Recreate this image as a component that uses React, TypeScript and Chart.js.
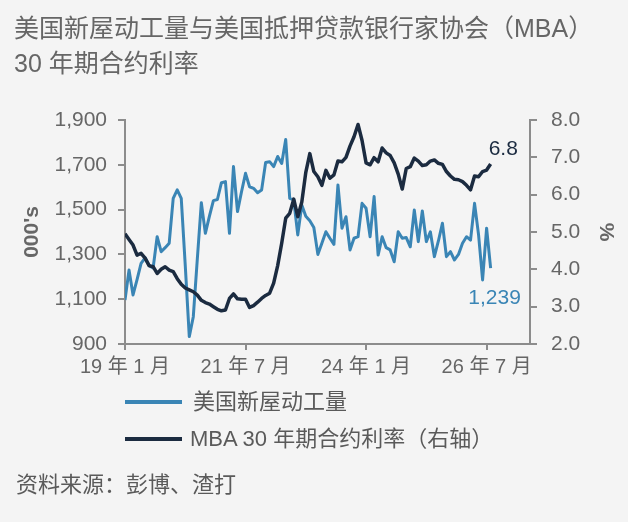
import { useEffect, useRef } from "react"
import { Chart, registerables } from "chart.js"

Chart.register(...registerables)

// 月度数据，起点 = 横轴起点
const housingStarts = [
    1096, 1230, 1119, 1187, 1260, 1285, 1250, 1239, 1379, 1312,
    1330, 1350, 1550, 1588, 1550, 1250, 933, 1022, 1280, 1531,
    1394, 1470, 1540, 1545, 1620, 1625, 1394, 1692, 1491, 1580,
    1662, 1602, 1595, 1575, 1587, 1710, 1714, 1692, 1737, 1706,
    1813, 1550, 1543, 1387, 1520, 1470, 1450, 1420, 1300, 1350,
    1401, 1372, 1345, 1610, 1417, 1468, 1320, 1372, 1379, 1528,
    1506, 1379, 1558, 1297, 1379, 1330, 1320, 1267, 1401, 1372,
    1375, 1334, 1498, 1357, 1494, 1357, 1401, 1290, 1360, 1439,
    1290, 1312, 1275, 1300, 1350, 1379, 1364, 1528, 1387, 1186,
    1417, 1239,
]
const mbaRate = [
    4.95, 4.80, 4.65, 4.38, 4.43, 4.30, 4.10, 4.07, 3.89, 4.00,
    4.07, 3.98, 3.94, 3.75, 3.60, 3.50, 3.45, 3.40, 3.31, 3.17,
    3.11, 3.07, 3.00, 2.93, 2.89, 2.91, 3.22, 3.34, 3.21, 3.20,
    3.20, 2.98, 3.03, 3.12, 3.22, 3.30, 3.36, 3.63, 4.10, 4.70,
    5.37, 5.50, 5.88, 5.41, 5.80, 6.60, 7.10, 6.62, 6.48, 6.25,
    6.65, 6.44, 6.53, 6.90, 6.88, 7.00, 7.30, 7.55, 7.88, 7.45,
    6.85, 6.80, 6.99, 6.88, 7.25, 7.12, 7.05, 6.85, 6.55, 6.15,
    6.70, 6.75, 6.98, 6.90, 6.78, 6.80, 6.90, 6.93, 6.84, 6.81,
    6.62, 6.50, 6.41, 6.40, 6.35, 6.25, 6.13, 6.50, 6.48, 6.62,
    6.66, 6.82,
]
const xTicks = [0, 30, 60, 90]
const xTickLabels = ["19 年 1 月", "21 年 7 月", "24 年 1 月", "26 年 7 月"]
const leftTicks = [900, 1100, 1300, 1500, 1700, 1900]
const rightTicks = [2, 3, 4, 5, 6, 7, 8]

const BLUE = "#3a85b5"
const NAVY = "#1b2b40"
const GRAY = "#666666"
const AXIS = "#8c8c8c"
const FONT = "'Liberation Sans', Arial, 'Noto Sans CJK SC', sans-serif"

const endLabels = {
    id: "endLabels",
    afterDatasetsDraw(chart: any) {
        const { ctx } = chart
        const x = chart.scales.x
        const i = housingStarts.length - 1
        const px = x.getPixelForValue(i)
        ctx.save()
        ctx.font = `21px ${FONT}`
        ctx.textBaseline = "middle"
        ctx.textAlign = "left"
        ctx.fillStyle = NAVY
        ctx.fillText(mbaRate[i].toFixed(1), px - 2, chart.scales.y1.getPixelForValue(mbaRate[i]) - 15)
        ctx.textAlign = "center"
        ctx.fillStyle = BLUE
        ctx.fillText(housingStarts[i].toLocaleString("en-US"), px + 4, chart.scales.y.getPixelForValue(housingStarts[i]) + 30)
        ctx.restore()
    }
}

const grid = {
    drawOnChartArea: false,
    drawTicks: true,
    tickLength: 7,
    color: AXIS,
    lineWidth: 2,
}

const App = () => {
    const chartRef = useRef<HTMLCanvasElement>(null)
    useEffect(() => {
        if (!chartRef.current)
            return
        const chart = new Chart(chartRef.current, {
            type: "line",
            data: {
                datasets: [
                    {
                        label: "MBA 30 年期合约利率（右轴）",
                        data: mbaRate.map((v, i) => ({ x: i, y: v })),
                        yAxisID: "y1",
                        borderColor: NAVY,
                        borderWidth: 3.5,
                        pointRadius: 0,
                        tension: 0,
                        order: 0,
                    },
                    {
                        label: "美国新屋动工量",
                        data: housingStarts.map((v, i) => ({ x: i, y: v })),
                        yAxisID: "y",
                        borderColor: BLUE,
                        borderWidth: 3,
                        pointRadius: 0,
                        tension: 0,
                        order: 1,
                    },
                ]
            },
            options: {
                animation: false,
                responsive: false,
                borderJoinStyle: "round",
                layout: { padding: { top: 120, left: 0, right: 0, bottom: 0 } },
                plugins: {
                    legend: { display: false },
                    tooltip: { enabled: false },
                },
                scales: {
                    x: {
                        type: "linear",
                        min: 0,
                        max: 100.8,
                        afterBuildTicks: (s: any) => { s.ticks = xTicks.map(v => ({ value: v })) },
                        afterFit: (s: any) => { s.height = 178 },
                        ticks: {
                            callback: (v: any) => xTickLabels[xTicks.indexOf(Number(v))],
                            font: { size: 20, family: FONT },
                            color: GRAY,
                            maxRotation: 0,
                            autoSkip: false,
                            padding: 5,
                        },
                        grid: { ...grid, tickLength: 6 },
                        border: { color: AXIS, width: 2 },
                    },
                    y: {
                        position: "left",
                        min: 900,
                        max: 1900,
                        afterBuildTicks: (s: any) => { s.ticks = leftTicks.map(v => ({ value: v })) },
                        afterFit: (s: any) => { s.width = 125 },
                        ticks: {
                            callback: (v: any) => Number(v).toLocaleString("en-US"),
                            font: { size: 21, family: FONT },
                            color: GRAY,
                            padding: 11,
                        },
                        title: {
                            display: true,
                            text: "000's",
                            color: GRAY,
                            font: { size: 21, weight: "bold", family: FONT },
                            padding: { top: 20, bottom: 0 },
                        },
                        grid,
                        border: { color: AXIS, width: 2 },
                    },
                    y1: {
                        position: "right",
                        min: 2,
                        max: 8,
                        afterBuildTicks: (s: any) => { s.ticks = rightTicks.map(v => ({ value: v })) },
                        afterFit: (s: any) => { s.width = 98 },
                        ticks: {
                            callback: (v: any) => Number(v).toFixed(1),
                            font: { size: 21, family: FONT },
                            color: GRAY,
                            padding: 14,
                        },
                        title: {
                            display: true,
                            text: "%",
                            color: GRAY,
                            font: { size: 21, weight: "bold", family: FONT },
                            padding: { top: 10, bottom: 0 },
                        },
                        grid,
                        border: { color: AXIS, width: 2 },
                    },
                }
            } as any,
            plugins: [endLabels],
        })
        return () => {
            chart.destroy()
        }
    }, [])

    const text = { position: "absolute" as const, color: GRAY, fontFamily: FONT, whiteSpace: "nowrap" as const }
    const swatch = (top: number, color: string) => ({
        position: "absolute" as const, left: 125, top, width: 57, height: 4, background: color,
    })

    return <div style={{ position: "fixed", inset: 0, background: "#f4f4f4" }}>
        <div style={{ position: "relative", width: 628, height: 522 }}>
            <canvas ref={chartRef} width={628} height={522} style={{ position: "absolute", left: 0, top: 0 }}></canvas>
            <div style={{ ...text, left: 14, top: 11, fontSize: 25, lineHeight: "35px" }}>
                美国新屋动工量与美国抵押贷款银行家协会（MBA）<br />30 年期合约利率
            </div>
            <div style={swatch(400, BLUE)}></div>
            <div style={{ ...text, left: 193, top: 387, fontSize: 22, lineHeight: "30px", color: "#5a5a5a" }}>美国新屋动工量</div>
            <div style={swatch(437, NAVY)}></div>
            <div style={{ ...text, left: 190, top: 424, fontSize: 22, lineHeight: "30px", color: "#5a5a5a" }}>MBA 30 年期合约利率（右轴）</div>
            <div style={{ ...text, left: 16, top: 470, fontSize: 22, lineHeight: "30px", color: "#5a5a5a" }}>资料来源：彭博、渣打</div>
        </div>
    </div>
}
export default App
